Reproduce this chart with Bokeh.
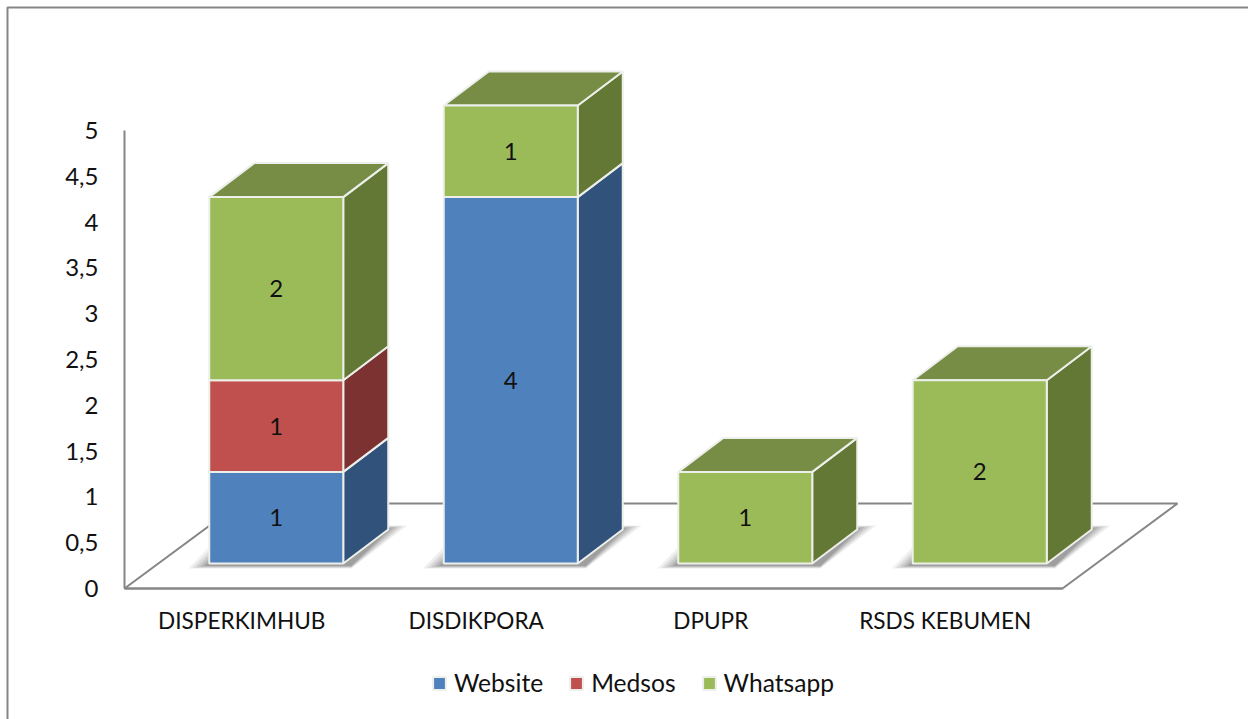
from bokeh.plotting import figure
from bokeh.models import ColumnDataSource, FixedTicker, Legend, LegendItem, Range1d
from bokeh.core.properties import value
from bokeh.embed import file_html
from bokeh.resources import INLINE

categories = ["DISPERKIMHUB", "DISDIKPORA", "DPUPR", "RSDS KEBUMEN"]
website = [1, 4, 0, 0]
medsos = [1, 0, 0, 0]
whatsapp = [2, 1, 1, 2]
y_ticks = [0, 0.5, 1, 1.5, 2, 2.5, 3, 3.5, 4, 4.5, 5]

FONT = "Lato"
GREY = "#868686"
W, H = 1248, 719
PX_X = 234.5
PX_Y = 91.6
FRONT = {"Website": "#4F81BD", "Medsos": "#C0504D", "Whatsapp": "#9BBB59"}
SIDE = {"Website": "#31527A", "Medsos": "#7B3230", "Whatsapp": "#647835"}
TOP = {"Website": "#5B8AC4", "Medsos": "#A04542", "Whatsapp": "#778D45"}

# geometry of the pseudo-3D box, in axis units
DX, DY = 45 / PX_X, 34 / PX_Y        # depth of one bar
OX, OY = 34.5 / PX_X, 25 / PX_Y      # shift of bar front from floor front
HALF = 67 / PX_X                     # half the bar width
FLOOR_DX, FLOOR_DY = 115 / PX_X, 85 / PX_Y

AX0, AY0 = 124, 588                  # pixel where value 0 / first band meet


def fx(px):
    return -0.5 + (px - AX0) / PX_X


def fy(py):
    return (AY0 - py) / PX_Y


p = figure(width=W, height=H, frame_width=W, frame_height=H,
           x_range=Range1d(fx(0), fx(W)), y_range=Range1d(fy(H), fy(0)),
           output_backend="svg", toolbar_location=None,
           min_border_left=0, min_border_right=0, min_border_top=0, min_border_bottom=0)
p.outline_line_color = None
p.grid.visible = False

for ax in (p.xaxis[0], p.yaxis[0]):
    ax.axis_line_color = GREY
    ax.axis_line_width = 2
    ax.major_tick_line_color = None
    ax.minor_tick_line_color = None
    ax.major_label_text_font = FONT
    ax.major_label_text_font_size = "23px"
    ax.major_label_text_color = "#111111"

p.xaxis[0].fixed_location = 0
p.yaxis[0].fixed_location = -0.5
p.xaxis[0].ticker = FixedTicker(ticks=list(range(len(categories))))
p.xaxis[0].major_label_overrides = {i: c for i, c in enumerate(categories)}
p.xaxis[0].bounds = (-0.5, len(categories) - 0.5)
p.xaxis[0].major_label_standoff = 12
p.xaxis[0].major_label_text_font_size = "22.6px"
p.yaxis[0].ticker = FixedTicker(ticks=y_ticks)
p.yaxis[0].major_label_overrides = {t: str(t).replace(".", ",").replace(",0", "") for t in y_ticks}
p.yaxis[0].bounds = (0, 5)
p.yaxis[0].major_label_standoff = 20
p.yaxis[0].major_label_text_font_size = "24px"

# chart border: only its left and top edges fall inside the window
p.line([fx(7), fx(7), fx(W + 5)], [fy(H + 5), fy(7), fy(7)], line_color=GREY, line_width=2)

# floor
n = len(categories)
p.patch([-0.5, n - 0.5, n - 0.5 + FLOOR_DX, -0.5 + FLOOR_DX],
        [0, 0, FLOOR_DY, FLOOR_DY],
        fill_color="white", line_color=GREY, line_width=2)

# soft shadows on the floor
for i in range(n):
    cx = i + OX
    for inset, alpha in [(0, 0.10), (2, 0.14), (4, 0.18), (6, 0.24), (8, 0.30)]:
        g = inset / PX_X
        h = inset / PX_Y
        p.patch([cx - HALF - 21 / PX_X + g * 2, cx + HALF + 8 / PX_X,
                 cx + HALF + DX + 19 / PX_X - g * 2, cx - HALF + 21 / PX_X + g * 2],
                [OY - 5 / PX_Y + h * 0.3, OY - 5 / PX_Y + h * 0.3,
                 OY + DY + 4 / PX_Y - h * 0.3, OY + DY + 4 / PX_Y - h * 0.3],
                fill_color="#6f6f6f", fill_alpha=alpha, line_color=None)

# boxes
back_x, back_y, back_fill = [], [], []
front = {name: ([], []) for name in FRONT}
lx, ly, lt = [], [], []
for i in range(n):
    cx = i + OX
    base = 0.0
    stack = [("Website", website[i]), ("Medsos", medsos[i]), ("Whatsapp", whatsapp[i])]
    stack = [s for s in stack if s[1] > 0]
    for k, (name, v) in enumerate(stack):
        y0, y1 = OY + base, OY + base + v
        l, r = cx - HALF, cx + HALF
        back_x.append([r, r + DX, r + DX, r]); back_y.append([y0, y0 + DY, y1 + DY, y1]); back_fill.append(SIDE[name])
        if k == len(stack) - 1:
            back_x.append([l, r, r + DX, l + DX]); back_y.append([y1, y1, y1 + DY, y1 + DY]); back_fill.append(TOP[name])
        front[name][0].append([l, r, r, l]); front[name][1].append([y0, y0, y1, y1])
        lx.append(cx); ly.append((y0 + y1) / 2); lt.append(str(v))
        base += v

p.patches("xs", "ys", source=ColumnDataSource(dict(xs=back_x, ys=back_y, fill=back_fill)),
          fill_color="fill", line_color="#EDEFEA", line_width=2)
items = []
for name in FRONT:
    r = p.patches(front[name][0], front[name][1], fill_color=FRONT[name], line_color="#EDEFEA", line_width=2)
    items.append(LegendItem(label=name, renderers=[r]))

p.text("x", "y", "t", source=ColumnDataSource(dict(x=lx, y=ly, t=lt)),
       text_font=value(FONT), text_font_size="24px", text_color="#111111",
       text_align="center", text_baseline="middle")

legend = Legend(items=items, orientation="horizontal", location=(431, H - 697),
                background_fill_alpha=0, border_line_color=None,
                label_text_font=FONT, label_text_font_size="24.6px", label_text_color="#111111",
                glyph_width=16, glyph_height=16, label_standoff=7, spacing=25,
                padding=0, margin=0)
p.add_layout(legend, "center")

open("out.html", "w").write(file_html(p, INLINE))
